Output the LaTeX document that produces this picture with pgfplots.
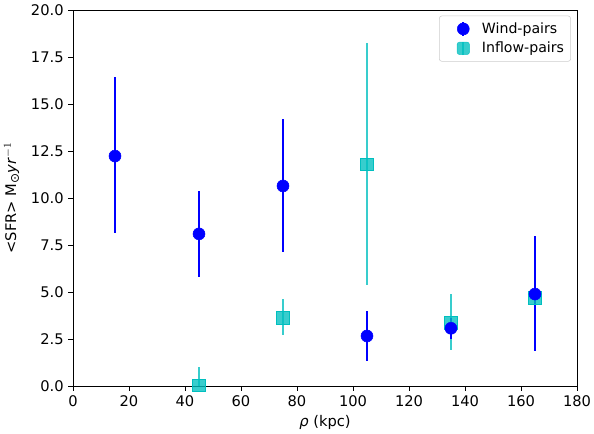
\documentclass[border=0pt]{standalone}
\usepackage{pgfplots}
\pgfplotsset{compat=1.18}
\usepackage{fontspec}
\setmainfont{DejaVu Sans}
\definecolor{windc}{RGB}{0,0,255}
\definecolor{inflc}{RGB}{0,191,191}
\begin{document}
\begin{tikzpicture}[x=1pt,y=1pt]
\useasboundingbox (-54.75,-36) rectangle (390.75,289.5);
\begin{axis}[
  at={(0,0)}, anchor=south west,
  scale only axis, width=378pt, height=282pt,
  xmin=0, xmax=180, ymin=0, ymax=20,
  xtick={0,20,...,180},
  ytick={0,2.5,...,20},
  yticklabel style={/pgf/number format/.cd,fixed,fixed zerofill,precision=1},
  /pgf/number format/assume math mode=true,
  tick align=outside, tick pos=left,
  major tick length=3.5pt,
  tick style={black, line width=0.6pt},
  axis line style={line width=0.6pt},
  ticklabel style={font=\fontsize{11}{13}\selectfont},
  label style={font=\fontsize{11}{13}\selectfont},
  xlabel={\textit{ρ} (kpc)},
  ylabel={<SFR> M\textsubscript{\fontsize{9}{9}\selectfont ⊙}\textit{yr}$^{-1}$},
  xlabel style={yshift=0pt},
  ylabel style={yshift=2pt},
  legend style={at={(0.988,0.985)}, anchor=north east, draw=black!20, rounded corners=2pt,
    font=\fontsize{10.6}{12}\selectfont, inner xsep=3pt, inner ysep=3pt, row sep=1pt,
    cells={anchor=west}},
  legend cell align=left,
]
\addlegendimage{only marks,
  legend image code/.code={\path[draw=none,fill=none] (-15pt,0) -- (12pt,0); \draw[windc, line width=1.5pt] (0,-5pt) -- (0,5pt); \fill[windc] (0,0) circle (4.5pt);}}
\addlegendentry{Wind-pairs}
\addlegendimage{only marks,
  legend image code/.code={\path[draw=none,fill=none] (-15pt,0) -- (12pt,0); \draw[inflc, opacity=0.78, line width=1.5pt] (0,-5pt) -- (0,5pt); \fill[inflc, opacity=0.78] (-4.7pt,-4.7pt) rectangle (4.7pt,4.7pt);}}
\addlegendentry{Inflow-pairs}

\addplot[forget plot, color=inflc, only marks, mark=square*, mark size=4.7pt,
  mark options={draw=none, fill=inflc, fill opacity=0.78},
  error bars/.cd, y dir=both, y explicit,
  error bar style={inflc, line width=1.5pt, draw opacity=0.78}, error mark=none]
coordinates {
 (45,0.05) += (0,0.95) -= (0,0.05)
 (75,3.62) += (0,1.01) -= (0,0.91)
 (105,11.80) += (0,6.44) -= (0,6.43)
 (135,3.35) += (0,1.54) -= (0,1.44)
 (165,4.68) += (0,0.30) -= (0,0.30)
};
\addplot[forget plot, color=windc, only marks, mark=*, mark size=4.5pt,
  mark options={draw=windc, fill=windc},
  error bars/.cd, y dir=both, y explicit,
  error bar style={windc, line width=1.5pt}, error mark=none]
coordinates {
 (15,12.23) += (0,4.18) -= (0,4.10)
 (45,8.09) += (0,2.28) -= (0,2.29)
 (75,10.64) += (0,3.54) -= (0,3.51)
 (105,2.66) += (0,1.33) -= (0,1.33)
 (135,3.07) += (0,0.55) -= (0,0.57)
 (165,4.89) += (0,3.09) -= (0,3.03)
};
\end{axis}
\end{tikzpicture}
\end{document}
